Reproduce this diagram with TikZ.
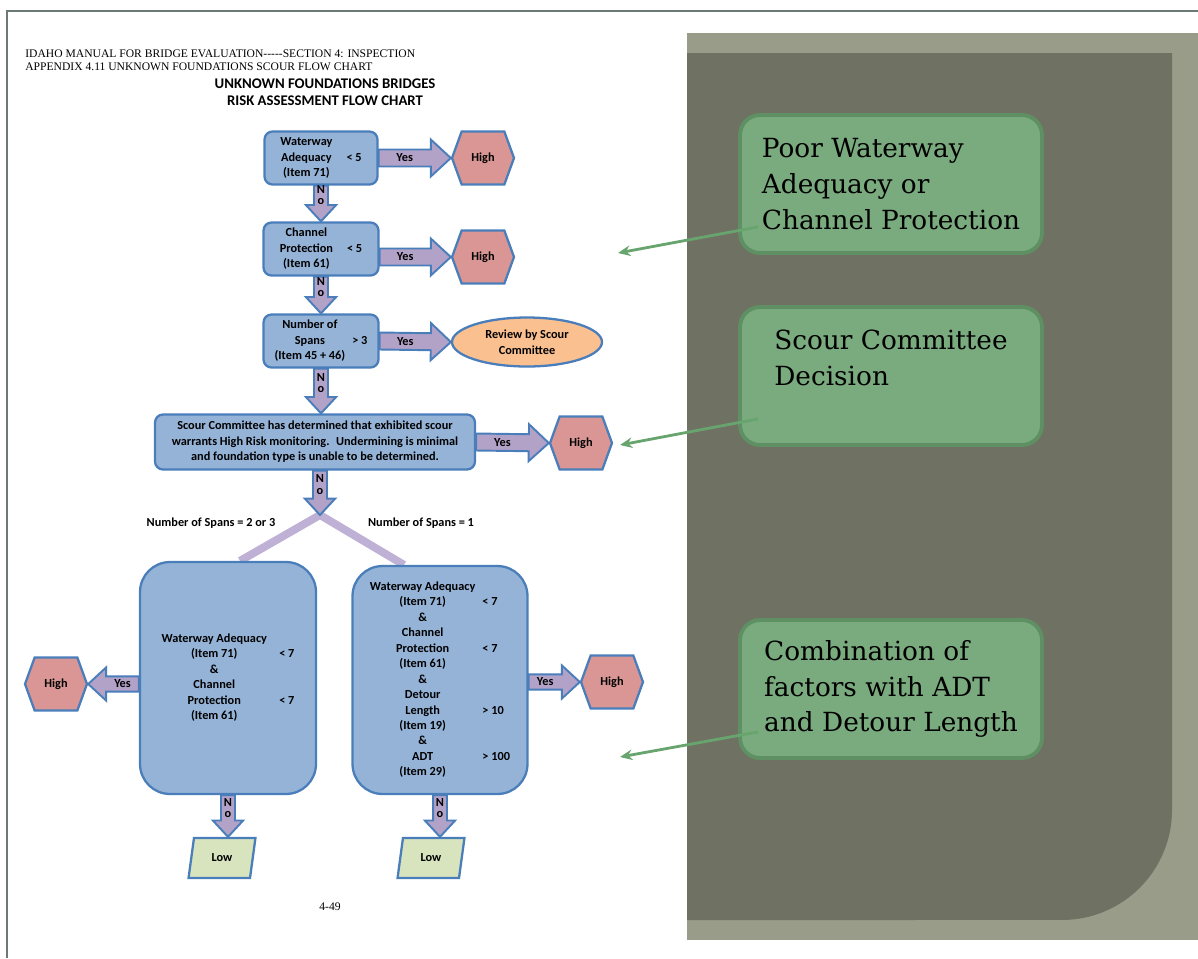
\documentclass[tikz,border=0pt]{standalone}
\usepackage{fontspec}
\setmainfont{Carlito}
\newfontfamily\timesfont{Liberation Serif}
\newfontfamily\slabfont{DejaVu Serif}
\usetikzlibrary{calc}
\usetikzlibrary{shapes}
\usetikzlibrary{arrows.meta}
\usetikzlibrary{backgrounds}
\definecolor{boxblue}{HTML}{95B3D7}
\definecolor{edgeblue}{HTML}{4A7EBB}
\definecolor{hexred}{HTML}{D99694}
\definecolor{lav}{HTML}{B3A2C7}
\definecolor{lavlight}{HTML}{BFB0D6}
\definecolor{peach}{HTML}{FAC090}
\definecolor{lowgreen}{HTML}{D7E4BD}
\definecolor{panel}{HTML}{9A9C8A}
\definecolor{panelin}{HTML}{6F7163}
\definecolor{note}{HTML}{7AAB7E}
\definecolor{noteedge}{HTML}{5E9063}
\definecolor{pointercol}{HTML}{68A46E}
\definecolor{framecol}{HTML}{6B7A72}

\newcommand{\fatarrow}[4][1]{%
  \pgfmathsetlengthmacro\fs{0.17cm*#1}%
  \pgfmathsetlengthmacro\fw{0.37cm*#1}%
  \pgfmathsetlengthmacro\fl{0.4cm*#1}%
  \coordinate (fh) at ($(#3)!\fl!(#2)$);
  \draw[fat] ($(#2)!\fs!90:(#3)$) -- ($(fh)!\fs!90:(#3)$) -- ($(fh)!\fw!90:(#3)$) -- (#3)
    -- ($(fh)!\fw!-90:(#3)$) -- ($(fh)!\fs!-90:(#3)$) -- ($(#2)!\fs!-90:(#3)$) -- cycle;
  \node[fatlabel] at ($(#2)!0.5!(fh)$) {#4};
}

\begin{document}
\begin{tikzpicture}[x=0.02cm, y=-0.02cm,
    q/.style={draw=edgeblue, line width=1.3pt, fill=boxblue, rounded corners=0.16cm, inner sep=0pt,
      font=\fontsize{7}{8.8}\selectfont\bfseries},
    qbig/.style={q, rounded corners=0.6cm},
    hi/.style={signal, signal to=east and west, signal pointer angle=140, draw=edgeblue, line width=1.3pt,
      fill=hexred, minimum width=1.24cm, minimum height=1.06cm, inner sep=0pt, font=\fontsize{7}{8.8}\selectfont\bfseries},
    lo/.style={trapezium, trapezium left angle=76, trapezium right angle=104, trapezium stretches=true,
      draw=edgeblue, line width=1.3pt, fill=lowgreen, minimum width=1.34cm, minimum height=0.8cm, inner sep=0pt,
      font=\fontsize{7}{8.8}\selectfont\bfseries},
    fat/.style={draw=edgeblue, line width=1.1pt, fill=lav, line join=miter},
    fatlabel/.style={font=\fontsize{7}{6.5}\selectfont\bfseries, align=center, inner sep=0pt},
    split/.style={lavlight, line width=4.5pt},
    note/.style={draw=noteedge, line width=2.2pt, fill=note, rounded corners=0.4cm, align=left,
      font=\slabfont\fontsize{15}{20.4}\selectfont, minimum width=6.04cm, minimum height=2.76cm},
    pointer/.style={pointercol, line width=1.6pt, -{Stealth[length=7pt, width=6pt]}},
    splitlabel/.style={font=\fontsize{7}{8.8}\selectfont\bfseries, inner sep=0pt}
  ]
  \useasboundingbox (0,0) rectangle (1198,958);
  \draw[framecol, line width=1.1pt] (7,958) -- (7,11) -- (1198,11);

  \fill[panel] (687,33) rectangle (1198,940);
  \fill[panelin] (687,53) -- (1172,53) -- (1172,810) arc[start angle=0, end angle=-90, radius=2.2cm] -- (687,920) -- cycle;

  \node[anchor=west, inner sep=0pt, font=\timesfont\fontsize{6.6}{8}\selectfont] (hd1) at (25,54) {IDAHO MANUAL FOR BRIDGE EVALUATION-----SECTION 4: INSPECTION};
  \node[anchor=west, inner sep=0pt, font=\timesfont\fontsize{6.6}{8}\selectfont] (hd2) at (25,67) {APPENDIX 4.11 UNKNOWN FOUNDATIONS SCOUR FLOW CHART};
  \node[inner sep=0pt, font=\fontsize{8.4}{10}\selectfont\bfseries] (tt1) at (325,84) {UNKNOWN FOUNDATIONS BRIDGES};
  \node[inner sep=0pt, font=\fontsize{8.4}{10}\selectfont\bfseries] (tt2) at (325,101) {RISK ASSESSMENT FLOW CHART};

  \node[q, minimum width=2.26cm, minimum height=1.06cm] (q1) at (321,158)
    {\begin{tabular}{@{}c@{\hspace{8pt}}c@{}}Waterway & \\ Adequacy & < 5\\ (Item 71) & \end{tabular}};
  \node[hi] (h1) at (483,158) {High};
  \node[q, minimum width=2.3cm, minimum height=1.06cm] (q2) at (321,249)
    {\begin{tabular}{@{}c@{\hspace{8pt}}c@{}}Channel & \\ Protection & < 5\\ (Item 61) & \end{tabular}};
  \node[hi] (h2) at (483,257) {High};
  \node[q, minimum width=2.3cm, minimum height=1.06cm] (q3) at (321,341)
    {\begin{tabular}{@{}c@{\hspace{4pt}}c@{}}Number of & \\ Spans & > 3\\ (Item 45 + 46) & \end{tabular}};
  \node[ellipse, draw=edgeblue, line width=1.3pt, fill=peach, minimum width=3cm, minimum height=0.98cm, inner sep=0pt,
    align=center, font=\fontsize{7}{8.8}\selectfont\bfseries] (r3) at (527,342) {Review by Scour\\Committee};
  \node[q, minimum width=6.4cm, minimum height=1.1cm, align=center] (q4) at (315,442)
    {Scour Committee has determined that exhibited scour\\warrants High Risk monitoring.~ Undermining is minimal\\and foundation type is unable to be determined.};
  \node[hi] (h4) at (581,443) {High};
  \coordinate (sp) at (320,515);
  \node[splitlabel] (s23) at (211,523) {Number of Spans = 2 or 3};
  \node[splitlabel] (s1) at (421,523) {Number of Spans = 1};

  \node[qbig, minimum width=3.52cm, minimum height=4.64cm] (q5) at (228,678)
    {\begin{tabular}{@{}c@{\hspace{7pt}}l@{}}Waterway Adequacy & \\ (Item 71) & < 7\\ \& & \\ Channel & \\ Protection & < 7\\ (Item 61) & \end{tabular}};
  \node[hi] (h5) at (56,684) {High};
  \node[qbig, minimum width=3.5cm, minimum height=4.56cm] (q6) at (440,680)
    {\begin{tabular}{@{}c@{\hspace{4pt}}l@{}}Waterway Adequacy & \\ (Item 71) & < 7\\ \& & \\ Channel & \\ Protection & < 7\\ (Item 61) & \\ \& & \\ Detour & \\ Length & > 10\\ (Item 19) & \\ \& & \\ ADT & > 100\\ (Item 29) & \end{tabular}};
  \node[hi] (h6) at (612,682) {High};
  \node[lo] (lo5) at (222,858) {Low};
  \node[lo] (lo6) at (431,858) {Low};
  \node[inner sep=0pt, font=\timesfont\fontsize{6.6}{8}\selectfont] (pg) at (330,907) {4-49};

  \coordinate (e2) at (q2.east |- h2.west);
  \coordinate (c4) at (q3.south |- q4.north);
  \coordinate (c5) at (sp |- q4.south);
  \coordinate (c6) at (q5.south |- lo5.north);
  \coordinate (c7) at (q6.south |- lo6.north);
  \coordinate (e5) at (q5.west |- h5.east);
  \coordinate (e6) at (q6.east |- h6.west);

  \fatarrow{q1.east}{h1.west}{Yes}
  \fatarrow{e2}{h2.west}{Yes}
  \fatarrow{q3.east}{r3.west}{Yes}
  \fatarrow{q4.east}{h4.west}{Yes}
  \fatarrow[0.9]{e5}{h5.east}{Yes}
  \fatarrow[0.9]{e6}{h6.west}{Yes}
  \fatarrow[0.82]{q1.south}{q2.north}{N\\o}
  \fatarrow[0.82]{q2.south}{q3.north}{N\\o}
  \fatarrow[0.82]{q3.south}{c4}{N\\o}
  \fatarrow[0.82]{c5}{sp}{N\\o}
  \fatarrow[0.82]{q5.south}{c6}{N\\o}
  \fatarrow[0.82]{q6.south}{c7}{N\\o}

  \begin{scope}[on background layer]
    \draw[split] (sp) -- ($(q5.north)+(12,0)$);
    \draw[split] (sp) -- ($(q6.north)+(-36,0)$);
  \end{scope}

  \node[note] (n1) at (891,184) {Poor Waterway\\Adequacy or\\Channel Protection};
  \node[note] (n2) at (891,376) {Scour Committee\\Decision\\\mbox{}};
  \node[note] (n3) at (891,689) {Combination of\\factors with ADT\\and Detour Length};
  \coordinate (t1) at (618,253);
  \coordinate (t2) at (620,445);
  \coordinate (t3) at (620,757);
  \draw[pointer] ($(n1.south west)+(20,-28)$) -- (t1);
  \draw[pointer] ($(n2.south west)+(20,-28)$) -- (t2);
  \draw[pointer] ($(n3.south west)+(20,-28)$) -- (t3);
\end{tikzpicture}
\end{document}
